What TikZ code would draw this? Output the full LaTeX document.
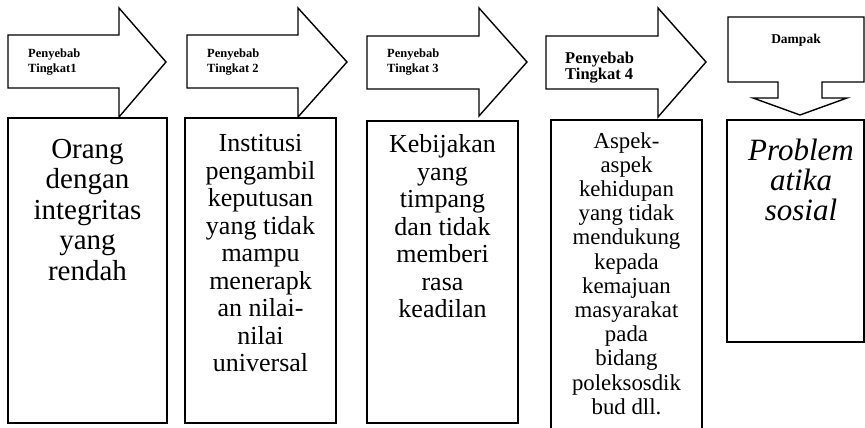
\documentclass[tikz,border=0pt]{standalone}
\usepackage{fontspec}
\setmainfont{Liberation Serif}
\begin{document}
\begin{tikzpicture}[x=1pt,y=-1pt,
  shapeline/.style={draw=black,line width=1.4pt,line join=miter,fill=white},
  lbl/.style={font=\bfseries\fontsize{12.5}{15.5}\selectfont,align=left,anchor=north west,inner sep=0pt},
  bodytxt/.style={font=\fontsize{26}{27.5}\selectfont,align=center,anchor=north,inner sep=0pt},
  smalltxt/.style={font=\fontsize{22.8}{24.2}\selectfont,align=center,anchor=north,inner sep=0pt}]
\useasboundingbox (0,0) rectangle (865,428);
\begin{scope}
\clip (0,0) rectangle (865,428);
% arrows
\draw[shapeline] (8,35) -- (119,35) -- (119,8) -- (166,62) -- (119,117) -- (119,88) -- (8,88) -- cycle;
\draw[shapeline] (187,35) -- (298,35) -- (298,8) -- (347,62) -- (298,117) -- (298,88) -- (187,88) -- cycle;
\draw[shapeline] (367,36) -- (479,36) -- (479,8) -- (527,62) -- (479,116) -- (479,89) -- (367,89) -- cycle;
\draw[shapeline] (546,36) -- (658,36) -- (658,8) -- (706,62) -- (658,117) -- (658,89) -- (546,89) -- cycle;
\draw[shapeline] (728,17) -- (864,17) -- (864,82) -- (822,82) -- (822,98) -- (847,98) -- (800,115) -- (753,98) -- (778,98) -- (778,82) -- (728,82) -- cycle;
% boxes
\draw[shapeline] (8,118) rectangle (167,423);
\draw[shapeline] (185,118) rectangle (336,423);
\draw[shapeline] (367,121) rectangle (518,423);
\draw[shapeline] (551,120) rectangle (702,440);
\draw[shapeline] (727,120) rectangle (864,342);
% labels
\node[lbl] (l1) at (28,48.5) {Penyebab\\Tingkat1};
\node[lbl] (l2) at (207,48.5) {Penyebab\\Tingkat 2};
\node[lbl] (l3) at (387,48.5) {Penyebab\\Tingkat 3};
\node[lbl,font=\bfseries\fontsize{16.5}{15.5}\selectfont] (l4) at (565,52) {Penyebab\\Tingkat 4};
\node[lbl,anchor=north,font=\bfseries\fontsize{13.5}{15.5}\selectfont] (l5) at (796,34) {Dampak};
% body texts
\node[bodytxt,font=\fontsize{29}{30.5}\selectfont] (t1) at (87.5,139) {Orang\\dengan\\integritas\\yang\\rendah};
\node[bodytxt] (t2) at (260.5,134.5) {Institusi\\pengambil\\keputusan\\yang tidak\\mampu\\menerapk\\an nilai-\\nilai\\universal};
\node[bodytxt] (t3) at (442.5,134.5) {Kebijakan\\yang\\timpang\\dan tidak\\memberi\\rasa\\keadilan};
\node[smalltxt] (t4) at (626.5,132) {Aspek-\\aspek\\kehidupan\\yang tidak\\mendukung\\kepada\\kemajuan\\masyarakat\\pada\\bidang\\poleksosdik\\bud dll.};
\node[bodytxt,font=\itshape\fontsize{31}{30}\selectfont] (t5) at (801,139) {Problem\\atika\\sosial};
\end{scope}
\end{tikzpicture}
\end{document}
